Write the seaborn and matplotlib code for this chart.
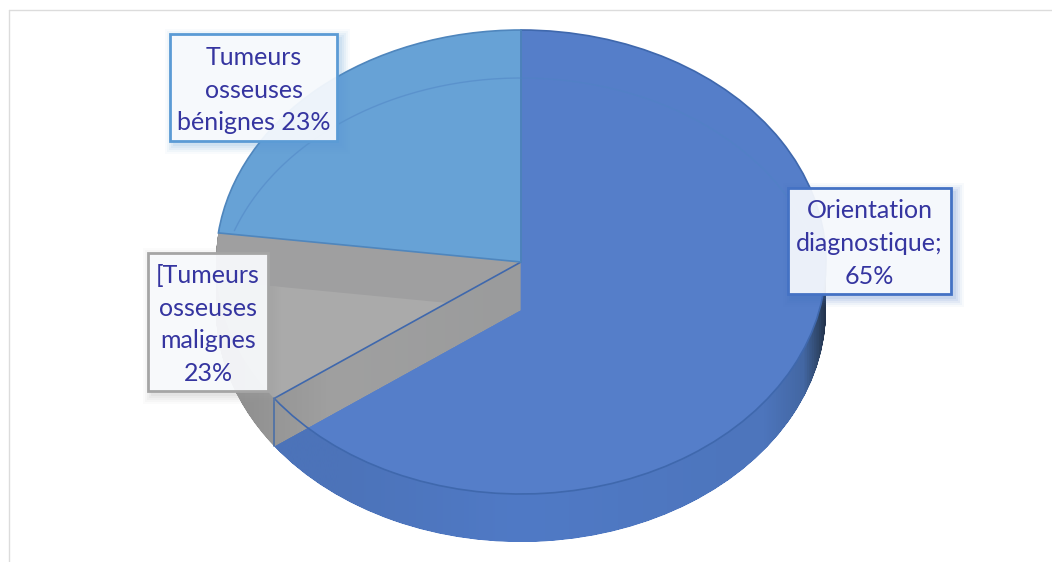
import numpy as np
import matplotlib
matplotlib.use("Agg")
import matplotlib.pyplot as plt
import seaborn as sns
from matplotlib.colors import LinearSegmentedColormap
from matplotlib.lines import Line2D
from matplotlib.patches import Rectangle
from matplotlib.path import Path

# Slice shares; the malignant slice spans 12 although its printed label reads 23%.
slice_names = ["Orientation diagnostique", "Tumeurs osseuses malignes", "Tumeurs osseuses bénignes"]
slice_shares = [65, 12, 23]
label_texts = [
    "Orientation\ndiagnostique;\n65%",
    "[Tumeurs\nosseuses\nmalignes\n23%",
    "Tumeurs\nosseuses\nbénignes 23%",
]

W, H = 1052, 562
CX, CY, RX, RY = 521, 262, 305, 232   # pie centre and radii, in pixels
DROP = 48 / RY                        # thickness of the disc, in axis units

sns.set_theme(style="white")
plt.rcParams["font.family"] = ["Lato", "DejaVu Sans"]

face_colors = sns.color_palette(["#557ec9", "#aaaaaa", "#67a2d6"])
fig = plt.figure(figsize=(W / 100, H / 100), dpi=100)
ax = fig.add_axes([0, 0, 1, 1])


def pie_layer(drop, colors, zorder):
    wedges, _ = ax.pie(slice_shares, colors=colors, startangle=90, counterclock=False,
                       radius=1, center=(0, -drop), wedgeprops=dict(linewidth=0))
    for w in wedges:
        w.set_zorder(zorder)
    return wedges


def gradient_fill(wedge_stack, stops, zorder):
    """Paint a horizontal gradient clipped to the union of stacked wedges."""
    paths = [w.get_path().transformed(w.get_patch_transform()) for w in wedge_stack]
    cmap = LinearSegmentedColormap.from_list("wall", stops)
    img = ax.imshow(np.linspace(0, 1, 512)[None, :], cmap=cmap, aspect="auto",
                    extent=(-1.0, 1.0, -1.3, 1.1), zorder=zorder, interpolation="bilinear")
    img.set_clip_path(Path.make_compound_path(*paths), transform=ax.transData)


# Side wall: a stack of invisible pies sweeps the disc through its thickness
steps = np.linspace(0, DROP, 97)
invisible = ["none"] * 3
stacks = [pie_layer(s, invisible, 0) for s in steps]
main_stack = [st[0] for st in stacks]
grey_stack = [st[1] for st in stacks]
blue_stack = [st[2] for st in stacks]

gradient_fill(main_stack, [(0, "#4c73b9"), (0.2, "#4c73b9"), (0.5, "#507ac6"), (0.9, "#4d75bc"),
                           (0.965, "#4367a3"), (0.99, "#2f4668"), (1, "#24344f")], 1)
gradient_fill(blue_stack, [(0, "#5a90c4"), (1, "#5a90c4")], 1)

# Top faces of the blue slices
top = pie_layer(0, [face_colors[0], "none", face_colors[2]], 2)

# Grey slice prism lies over its neighbours
gradient_fill(grey_stack, [(0, "#8a8a8a"), (0.1, "#979797"), (0.19, "#a0a0a0"),
                           (0.5, "#9a9b9c"), (1, "#9a9b9c")], 3)
grey_top = pie_layer(0, ["none", "#9f9fa0", "none"], 4)[1]
grey_floor = pie_layer(DROP, ["none", face_colors[1], "none"], 5)[1]
grey_floor.set_clip_on(True)
grey_floor.set_clip_path(grey_top)

# Outlines of the slices and the bottom rim seen through the top face
outline = pie_layer(0, invisible, 6)
outline[0].set(edgecolor="#3f68ad", linewidth=1.2)
outline[2].set(edgecolor="#4f86bd", linewidth=1.2)

end_angle = np.deg2rad(90 - 360 * slice_shares[0] / sum(slice_shares))
ax.plot([np.cos(end_angle)] * 2, [np.sin(end_angle), np.sin(end_angle) - DROP],
        color="#4a6fa8", lw=1.2, zorder=6)

rim = np.deg2rad(np.linspace(18, 160, 200))
ax.plot(np.cos(rim), np.sin(rim) - DROP, color="#4f83c4", lw=1, alpha=0.5, zorder=6)

ax.set_aspect("auto")
ax.set_xlim(-CX / RX, (W - CX) / RX)
ax.set_ylim(-(H - CY) / RY, CY / RY)
ax.set_axis_off()

# Chart area frame: only the top and left sides fall inside the canvas
fig.add_artist(Line2D([9 / W, 1], [1 - 10 / H] * 2, color="#dcdcdc", lw=1))
fig.add_artist(Line2D([9 / W, 9 / W], [0, 1 - 10 / H], color="#dcdcdc", lw=1))


def callout(text, left, top_px, right, bottom, edge):
    x0, y0 = left / W, 1 - bottom / H
    bw, bh = (right - left) / W, (bottom - top_px) / H
    tr = ax.transAxes
    # soft drop shadow to the lower right
    for grow, a in zip((9, 7, 5, 3, 1), (0.035, 0.05, 0.07, 0.08, 0.09)):
        ax.add_patch(Rectangle((x0 + (4 - grow) / W, y0 - (4 + grow) / H),
                               bw + 2 * grow / W, bh + 2 * grow / H, transform=tr,
                               facecolor=edge, edgecolor="none", alpha=a, zorder=7))
    ax.add_patch(Rectangle((x0, y0), bw, bh, transform=tr, facecolor="#ffffff",
                           edgecolor="none", alpha=0.6, zorder=7.5))
    ax.add_patch(Rectangle((x0, y0), bw, bh, transform=tr, facecolor="#f9fbfe",
                           edgecolor="none", alpha=0.8, zorder=8))
    ax.add_patch(Rectangle((x0, y0), bw, bh, transform=tr, facecolor="none",
                           edgecolor=edge, linewidth=2, zorder=8.5))
    ax.text(x0 + bw / 2, y0 + bh / 2 - 2.5 / H, text, transform=tr, ha="center", va="center",
            color="#3535a0", fontsize=18, linespacing=1.52, zorder=9)


callout(label_texts[0], 788, 188, 951, 294, "#4472c4")
callout(label_texts[1], 148, 253, 268, 391, "#a5a5a5")
callout(label_texts[2], 170, 34, 337, 141, "#5b9bd5")

fig.savefig("out.png", dpi=100, facecolor="white")
